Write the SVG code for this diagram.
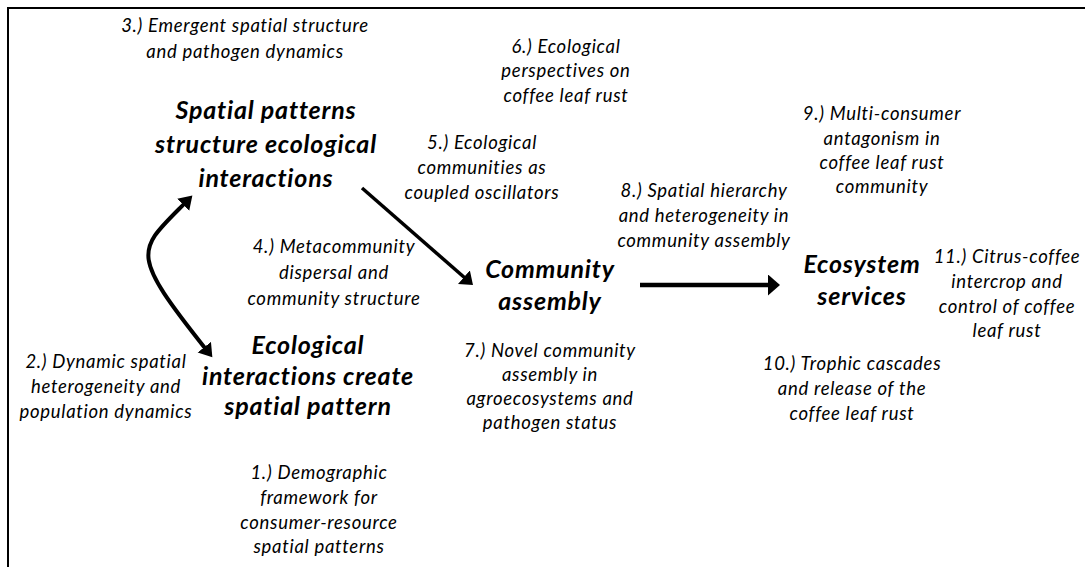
<svg xmlns="http://www.w3.org/2000/svg" width="1085" height="567" viewBox="0 0 1085 567">
  <style>
    .note { font-family: Lato, "Open Sans", "Liberation Sans", sans-serif; font-style: italic; font-size: 18.5px; letter-spacing: 0.7px; fill: #000; text-anchor: middle; }
    .head { font-family: Lato, "Open Sans", "Liberation Sans", sans-serif; font-style: italic; font-weight: 700; font-size: 25px; letter-spacing: 0.8px; fill: #000; text-anchor: middle; }
    .link { fill: none; stroke: #000; stroke-linecap: butt; }
  </style>
  <defs>
    <marker id="arrowDiag" markerUnits="userSpaceOnUse" markerWidth="16" markerHeight="20" refX="1" refY="9" orient="auto">
      <path d="M0,0 L12,9 L0,18 Z" fill="#000"/>
    </marker>
    <marker id="arrowFlat" markerUnits="userSpaceOnUse" markerWidth="16" markerHeight="22" refX="1" refY="10.5" orient="auto">
      <path d="M0,0 L12,10.5 L0,21 Z" fill="#000"/>
    </marker>
    <marker id="arrowCurve" markerUnits="userSpaceOnUse" markerWidth="16" markerHeight="18" refX="1" refY="8.5" orient="auto-start-reverse">
      <path d="M0,0 L13,8.5 L0,17 Z" fill="#000"/>
    </marker>
  </defs>

  <!-- frame -->
  <rect x="8" y="8" width="1100" height="600" fill="none" stroke="#000" stroke-width="2"/>

  <!-- connectors -->
  <g id="connectors">
    <path class="link" stroke-width="4" d="M 183.9 204.1 C 137 251, 129.3 252.7, 204.9 347.9" marker-start="url(#arrowCurve)" marker-end="url(#arrowCurve)"/>
    <path class="link" stroke-width="3.5" d="M 362 188 L 464.7 277.8" marker-end="url(#arrowDiag)"/>
    <path class="link" stroke-width="4.5" d="M 640 285 L 769 285" marker-end="url(#arrowFlat)"/>
  </g>

  <!-- main concepts -->
  <g id="node-spatial-patterns">
    <text class="head" x="266" y="119">Spatial patterns</text>
    <text class="head" x="266" y="153">structure ecological</text>
    <text class="head" x="266" y="187">interactions</text>
  </g>
  <g id="node-ecological-interactions">
    <text class="head" x="308" y="354">Ecological</text>
    <text class="head" x="308" y="385">interactions create</text>
    <text class="head" x="308" y="415">spatial pattern</text>
  </g>
  <g id="node-community-assembly">
    <text class="head" x="550" y="278">Community</text>
    <text class="head" x="550" y="310">assembly</text>
  </g>
  <g id="node-ecosystem-services">
    <text class="head" x="862" y="273">Ecosystem</text>
    <text class="head" x="862" y="305">services</text>
  </g>

  <!-- numbered topics -->
  <g id="topic-1">
    <text class="note" x="319" y="479">1.) Demographic</text>
    <text class="note" x="319" y="504">framework for</text>
    <text class="note" x="319" y="529">consumer-resource</text>
    <text class="note" x="319" y="553">spatial patterns</text>
  </g>
  <g id="topic-2">
    <text class="note" x="106" y="368">2.) Dynamic spatial</text>
    <text class="note" x="106" y="393">heterogeneity and</text>
    <text class="note" x="106" y="418">population dynamics</text>
  </g>
  <g id="topic-3">
    <text class="note" x="245" y="32">3.) Emergent spatial structure</text>
    <text class="note" x="245" y="58">and pathogen dynamics</text>
  </g>
  <g id="topic-4">
    <text class="note" x="334" y="253">4.) Metacommunity</text>
    <text class="note" x="334" y="279">dispersal and</text>
    <text class="note" x="334" y="305">community structure</text>
  </g>
  <g id="topic-5">
    <text class="note" x="482" y="149">5.) Ecological</text>
    <text class="note" x="482" y="174">communities as</text>
    <text class="note" x="482" y="199">coupled oscillators</text>
  </g>
  <g id="topic-6">
    <text class="note" x="566" y="53">6.) Ecological</text>
    <text class="note" x="566" y="77">perspectives on</text>
    <text class="note" x="566" y="102">coffee leaf rust</text>
  </g>
  <g id="topic-7">
    <text class="note" x="550" y="357">7.) Novel community</text>
    <text class="note" x="550" y="381">assembly in</text>
    <text class="note" x="550" y="405">agroecosystems and</text>
    <text class="note" x="550" y="429">pathogen status</text>
  </g>
  <g id="topic-8">
    <text class="note" x="704" y="197">8.) Spatial hierarchy</text>
    <text class="note" x="704" y="222">and heterogeneity in</text>
    <text class="note" x="704" y="247">community assembly</text>
  </g>
  <g id="topic-9">
    <text class="note" x="882" y="120">9.) Multi-consumer</text>
    <text class="note" x="882" y="145">antagonism in</text>
    <text class="note" x="882" y="169">coffee leaf rust</text>
    <text class="note" x="882" y="193">community</text>
  </g>
  <g id="topic-10">
    <text class="note" x="852" y="370">10.) Trophic cascades</text>
    <text class="note" x="852" y="395">and release of the</text>
    <text class="note" x="852" y="420">coffee leaf rust</text>
  </g>
  <g id="topic-11">
    <text class="note" x="1007" y="263">11.) Citrus-coffee</text>
    <text class="note" x="1007" y="288">intercrop and</text>
    <text class="note" x="1007" y="313">control of coffee</text>
    <text class="note" x="1007" y="337">leaf rust</text>
  </g>
</svg>
